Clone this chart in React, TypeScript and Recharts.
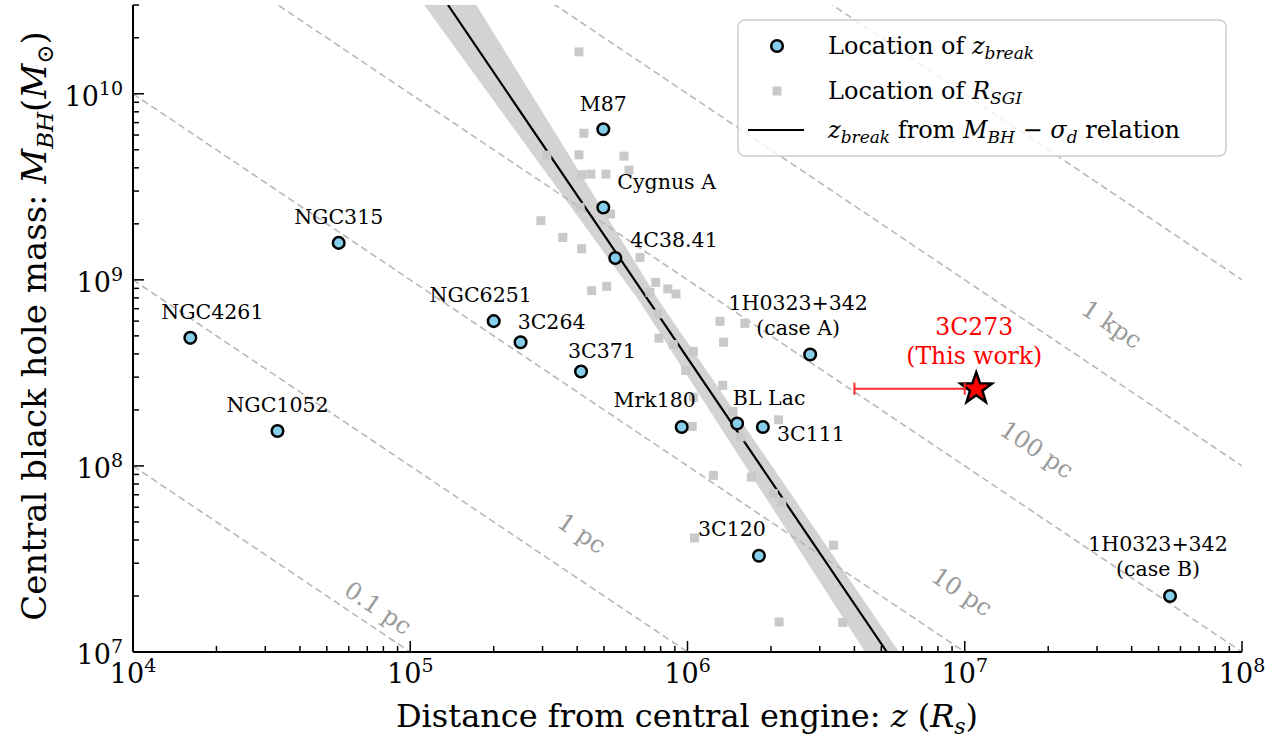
import React from 'react'
import { ComposedChart, XAxis, YAxis, Scatter, Line, Area, Legend } from 'recharts'

// z_break locations (blue circles)
const breakNames = [
  'NGC4261', 'NGC1052', 'NGC315', 'NGC6251', '3C264', '3C371', 'M87', 'Cygnus A', '4C38.41',
  'Mrk180', 'BL Lac', '3C111', '3C120', '1H0323+342 (case A)', '1H0323+342 (case B)',
]
const breakZ = [1.61e4, 3.32e4, 5.52e4, 2.0e5, 2.5e5, 4.13e5, 4.97e5, 4.97e5, 5.49e5, 9.53e5, 1.51e6, 1.87e6, 1.81e6, 2.77e6, 5.5e7]
const breakMass = [4.88e8, 1.54e8, 1.58e9, 6.0e8, 4.62e8, 3.22e8, 6.45e9, 2.45e9, 1.31e9, 1.62e8, 1.69e8, 1.62e8, 3.29e7, 3.97e8, 2.0e7]

// R_SGI locations (grey squares)
const sgiZ = [
  4.06e5, 4.23e5, 3.11e5, 4.06e5, 5.9e5, 6.15e5, 4.15e5, 4.48e5, 5.08e5, 4.1e5, 5.28e5, 2.96e5, 3.55e5, 4.15e5,
  6.74e5, 4.51e5, 5.11e5, 7.68e5, 7.32e5, 8.49e5, 9.09e5, 7.81e5, 1.31e6, 1.61e6, 7.89e5, 8.89e5, 1.05e6, 1.35e6,
  9.85e5, 1.34e6, 1.05e6, 1.46e6, 1.04e6, 2.13e6, 1.55e6, 1.24e6, 1.7e6, 2.04e6, 2.19e6, 1.06e6, 3.36e6, 2.14e6, 3.63e6,
]
const sgiMass = [
  1.68e10, 6.14e9, 4.68e9, 4.7e9, 4.62e9, 3.89e9, 3.67e9, 3.7e9, 3.7e9, 2.45e9, 2.26e9, 2.08e9, 1.69e9, 1.47e9,
  1.32e9, 8.75e8, 9.23e8, 9.69e8, 8.57e8, 8.94e8, 8.4e8, 6.56e8, 5.99e8, 5.84e8, 4.86e8, 4.49e8, 4.13e8, 4.62e8,
  3.26e8, 2.71e8, 2.34e8, 1.96e8, 1.63e8, 1.77e8, 1.43e8, 8.9e7, 8.72e7, 7.1e7, 6.4e7, 4.1e7, 3.75e7, 1.45e7, 1.44e7,
]

// 3C273 (this work)
const starZ = [1.1e7]
const starMass = [2.6e8]
const starErrZ = [4e6, 1e7]

// z_break from M_BH - sigma relation, and its uncertainty band
const fitZ = [1.368e5, 5.24e6]
const fitMass = [3e10, 1e7]
const bandZ = [1e5, 6.685e5, 7.89e5, 1e7]
const bandLow = [3.8e10, 7.73e8, 5.26e8, 1.47e6]
const bandHigh = [1.13e11, 1.15e9, 7.73e8, 3.04e6]

// constant projected distance lines (0.1 pc ... 10 kpc)
const distZ = [1e4, 1e8]
const distMass = [
  [1e8, 1e4],
  [1e9, 1e5],
  [1e10, 1e6],
  [1e11, 1e7],
  [1e12, 1e8],
  [1e13, 1e9],
]
const distLabels = ['0.1 pc', '1 pc', '10 pc', '100 pc', '1 kpc']
const distLabelZ = [7.65e4, 4.15e5, 9.77e6, 1.82e7, 3.39e7]
const distLabelMass = [1.72e7, 4.33e7, 2.1e7, 1.22e8, 5.74e8]

const xMajor = [1e4, 1e5, 1e6, 1e7, 1e8]
const yMajor = [1e7, 1e8, 1e9, 1e10]

const FONT = '"DejaVu Serif", serif'
const serif = { fontFamily: FONT }

const minors = (majors: number[], top: number) => {
  const out: number[] = []
  majors.forEach((m) => {
    for (let k = 2; k <= 9; k++) if (m * k <= top * 1.0001) out.push(m * k)
  })
  return out
}
const xTicks = [...xMajor, ...minors(xMajor.slice(0, -1), 1e8)].sort((a, b) => a - b)
const yTicks = [...yMajor, ...minors(yMajor, 3e10)].sort((a, b) => a - b)
const isMajor = (v: number) => Math.abs(Math.log10(v) - Math.round(Math.log10(v))) < 1e-9
const expOf = (v: number) => Math.round(Math.log10(v))

const breakData = breakNames.map((name, i) => ({ name, z: breakZ[i], m: breakMass[i] }))
const sgiData = sgiZ.map((z, i) => ({ z, m: sgiMass[i] }))
const starData = starZ.map((z, i) => ({ z, m: starMass[i] }))
const errData = starErrZ.map((z) => ({ z, m: starMass[0] }))
const fitData = fitZ.map((z, i) => ({ z, m: fitMass[i] }))
const bandData = bandZ.map((z, i) => ({ z, band: [bandLow[i], bandHigh[i]] }))
const distData = distMass.map((ms) => distZ.map((z, i) => ({ z, m: ms[i] })))
const distLabelData = distLabels.map((text, i) => ({ text, z: distLabelZ[i], m: distLabelMass[i] }))

// label placement around each marker: dx, baseline dy (per line), anchor
const NAME_POS: Record<string, [number, number[], 'start' | 'middle']> = {
  NGC4261: [22, [-19], 'middle'],
  NGC1052: [0, [-19], 'middle'],
  NGC315: [0, [-19], 'middle'],
  NGC6251: [-13, [-19], 'middle'],
  '3C264': [31, [-13], 'middle'],
  '3C371': [21, [-13], 'middle'],
  M87: [0, [-18], 'middle'],
  'Cygnus A': [14, [-18], 'start'],
  '4C38.41': [15, [-11], 'start'],
  Mrk180: [-27, [-20], 'middle'],
  'BL Lac': [32, [-19], 'middle'],
  '3C111': [48, [14], 'middle'],
  '3C120': [-27, [-20], 'middle'],
  '1H0323+342 (case A)': [-12, [-45, -20], 'middle'],
  '1H0323+342 (case B)': [-12, [-45, -20], 'middle'],
}

const BottomTick = ({ x, y, payload }: any) => {
  const v = payload.value
  const major = isMajor(v)
  return (
    <g>
      <line x1={x} x2={x} y1={y} y2={y - (major ? 11 : 6)} stroke="#000" strokeWidth={1.5} />
      {major && (
        <text x={x} y={y + 31} textAnchor="middle" style={serif} fontSize={27} fill="#000">
          10<tspan dy={-11} fontSize={19}>{expOf(v)}</tspan>
        </text>
      )}
    </g>
  )
}

const TopTick = ({ x, y, payload }: any) => (
  <line x1={x} x2={x} y1={y} y2={y + (isMajor(payload.value) ? 11 : 6)} stroke="#000" strokeWidth={1.5} />
)

const LeftTick = ({ x, y, payload }: any) => {
  const v = payload.value
  const major = isMajor(v)
  return (
    <g>
      <line x1={x} x2={x + (major ? 11 : 6)} y1={y} y2={y} stroke="#000" strokeWidth={1.5} />
      {major && (
        <text x={x - 10} y={y + 12} textAnchor="end" style={serif} fontSize={27} fill="#000">
          10<tspan dy={-11} fontSize={19}>{expOf(v)}</tspan>
        </text>
      )}
    </g>
  )
}

const RightTick = ({ x, y, payload }: any) => (
  <line x1={x} x2={x - (isMajor(payload.value) ? 11 : 6)} y1={y} y2={y} stroke="#000" strokeWidth={1.5} />
)

const XTitle = () => (
  <text x={687} y={727} textAnchor="middle" style={serif} fontSize={32} fill="#000">
    Distance from central engine:{' '}
    <tspan fontStyle="italic">z</tspan> (<tspan fontStyle="italic">R</tspan>
    <tspan fontStyle="italic" fontSize={22} dy={7}>s</tspan>
    <tspan dy={-7}>)</tspan>
  </text>
)

const YTitle = () => (
  <text x={46} y={326} transform="rotate(-90, 46, 326)" textAnchor="middle" style={serif} fontSize={34} fill="#000">
    Central black hole mass:{' '}
    <tspan fontStyle="italic">M</tspan>
    <tspan fontStyle="italic" fontSize={23} dy={7}>BH</tspan>
    <tspan dy={-7}>(</tspan>
    <tspan fontStyle="italic">M</tspan>
    <tspan fontSize={23} dy={7}>⊙</tspan>
    <tspan dy={-7}>)</tspan>
  </text>
)

const Circle = ({ cx, cy }: any) => <circle cx={cx} cy={cy} r={5.8} fill="#87ceeb" stroke="#000" strokeWidth={2.5} />

const Square = ({ cx, cy }: any) => <rect x={cx - 4.5} y={cy - 4.5} width={9} height={9} fill="#c9c9c9" />

const Star = ({ cx, cy }: any) => {
  const pts: string[] = []
  for (let k = 0; k < 10; k++) {
    const r = k % 2 === 0 ? 16.5 : 6.6
    const a = (-90 + k * 36) * (Math.PI / 180)
    pts.push(`${cx + r * Math.cos(a)},${cy + r * Math.sin(a)}`)
  }
  return <polygon points={pts.join(' ')} fill="#ff0000" stroke="#000" strokeWidth={2.5} strokeLinejoin="miter" />
}

const NameLabel = ({ cx, cy, payload }: any) => {
  const pos = NAME_POS[payload.name]
  if (!pos) return <g />
  const [dx, dys, anchor] = pos
  const parts = payload.name.split(' (')
  const lines = parts.length > 1 ? [parts[0], '(' + parts[1]] : [payload.name]
  return (
    <g>
      {lines.map((t: string, i: number) => (
        <text key={i} x={cx + dx} y={cy + dys[i]} textAnchor={anchor} style={serif} fontSize={20.5} fill="#000">
          {t}
        </text>
      ))}
    </g>
  )
}

const StarLabel = ({ cx, cy }: any) => (
  <g fill="#ff0000">
    <text x={cx - 2} y={cy - 54} textAnchor="middle" style={serif} fontSize={23.5}>3C273</text>
    <text x={cx - 2} y={cy - 25} textAnchor="middle" style={serif} fontSize={23.5}>(This work)</text>
  </g>
)

const DistLabel = ({ cx, cy, payload }: any) => (
  <text
    x={cx}
    y={cy}
    transform={`rotate(34, ${cx}, ${cy})`}
    textAnchor="middle"
    dominantBaseline="central"
    style={serif}
    fontSize={24}
    fill="#9a9a9a"
  >
    {payload.text}
  </text>
)

const ErrCap = ({ cx, cy, index }: any) => (
  <line key={`cap-${index}`} x1={cx} x2={cx} y1={cy - 6} y2={cy + 6} stroke="#ff2a2a" strokeWidth={2} />
)

const LegendBox = () => (
  <svg width={490} height={138} style={{ display: 'block' }}>
    <rect x={1} y={1} width={488} height={136} rx={7} fill="#fff" fillOpacity={0.8} stroke="#cccccc" strokeWidth={1.5} />
    <circle cx={40} cy={27} r={5.8} fill="#87ceeb" stroke="#000" strokeWidth={2.5} />
    <rect x={35.5} y={67.5} width={9} height={9} fill="#c9c9c9" />
    <line x1={11} x2={67} y1={111} y2={111} stroke="#000" strokeWidth={2.2} />
    <g fill="#000">
      <text x={91} y={35} style={serif} fontSize={24}>
        Location of <tspan fontStyle="italic">z</tspan>
        <tspan fontStyle="italic" fontSize={17} dy={5}>break</tspan>
      </text>
      <text x={91} y={80} style={serif} fontSize={24}>
        Location of <tspan fontStyle="italic">R</tspan>
        <tspan fontStyle="italic" fontSize={17} dy={5}>SGI</tspan>
      </text>
      <text x={91} y={119} style={serif} fontSize={24}>
        <tspan fontStyle="italic">z</tspan>
        <tspan fontStyle="italic" fontSize={17} dy={5}>break</tspan>
        <tspan dy={-5}> from </tspan>
        <tspan fontStyle="italic">M</tspan>
        <tspan fontStyle="italic" fontSize={17} dy={5}>BH</tspan>
        <tspan dy={-5}> − </tspan>
        <tspan fontStyle="italic">σ</tspan>
        <tspan fontStyle="italic" fontSize={17} dy={5}>d</tspan>
        <tspan dy={-5}> relation</tspan>
      </text>
    </g>
  </svg>
)

export default function App() {
  return (
    <div style={{ position: 'absolute', left: 0, top: 0, width: 1278, height: 744, background: '#fff' }}>
      <ComposedChart width={1278} height={744} data={bandData} margin={{ top: 5, right: 36, bottom: 0, left: 0 }}>
        <XAxis
          dataKey="z"
          type="number"
          scale="log"
          domain={[1e4, 1e8]}
          ticks={xTicks}
          interval={0}
          allowDataOverflow
          height={92}
          tickSize={0}
          tickMargin={0}
          tickLine={false}
          axisLine={{ stroke: '#000', strokeWidth: 2 }}
          tick={(p: any) => <BottomTick {...p} />}
          label={<XTitle />}
        />
        <XAxis
          xAxisId="top"
          orientation="top"
          dataKey="z"
          type="number"
          scale="log"
          domain={[1e4, 1e8]}
          ticks={xTicks}
          interval={0}
          allowDataOverflow
          height={0}
          tickSize={0}
          tickMargin={0}
          tickLine={false}
          axisLine={{ stroke: '#000', strokeWidth: 2 }}
          tick={(p: any) => <TopTick {...p} />}
        />
        <YAxis
          dataKey="m"
          type="number"
          scale="log"
          domain={[1e7, 3e10]}
          ticks={yTicks}
          interval={0}
          allowDataOverflow
          width={133}
          tickSize={0}
          tickMargin={0}
          tickLine={false}
          axisLine={{ stroke: '#000', strokeWidth: 2 }}
          tick={(p: any) => <LeftTick {...p} />}
          label={<YTitle />}
        />
        <YAxis
          yAxisId="right"
          orientation="right"
          dataKey="m"
          type="number"
          scale="log"
          domain={[1e7, 3e10]}
          ticks={yTicks}
          interval={0}
          allowDataOverflow
          width={0}
          tickSize={0}
          tickMargin={0}
          tickLine={false}
          axisLine={{ stroke: '#000', strokeWidth: 2 }}
          tick={(p: any) => <RightTick {...p} />}
        />

        <Area dataKey="band" type="linear" fill="#d3d3d3" fillOpacity={1} stroke="none" isAnimationActive={false} />

        {distData.map((d, i) => (
          <Line
            key={`dist-${i}`}
            data={d}
            dataKey="m"
            type="linear"
            stroke="#b8b8b8"
            strokeWidth={1.6}
            strokeDasharray="7 4"
            dot={false}
            activeDot={false}
            isAnimationActive={false}
          />
        ))}

        <Line data={fitData} dataKey="m" type="linear" stroke="#000" strokeWidth={2.2} dot={false} activeDot={false} isAnimationActive={false} />
        <Line data={errData} dataKey="m" type="linear" stroke="#ff2a2a" strokeWidth={2} dot={(p: any) => <ErrCap {...p} />} activeDot={false} isAnimationActive={false} />

        <Scatter data={distLabelData} shape={(p: any) => <DistLabel {...p} />} isAnimationActive={false} />
        <Scatter data={sgiData} shape={(p: any) => <Square {...p} />} isAnimationActive={false} />
        <Scatter data={breakData} shape={(p: any) => <Circle {...p} />} isAnimationActive={false} />
        <Scatter data={breakData} shape={(p: any) => <NameLabel {...p} />} isAnimationActive={false} />
        <Scatter data={starData} shape={(p: any) => <Star {...p} />} isAnimationActive={false} />
        <Scatter data={starData} shape={(p: any) => <StarLabel {...p} />} isAnimationActive={false} />

        <Legend
          layout="vertical"
          align="center"
          verticalAlign="middle"
          wrapperStyle={{ left: 737, top: 19, width: 490, height: 138 }}
          content={() => <LegendBox />}
        />
      </ComposedChart>
    </div>
  )
}
